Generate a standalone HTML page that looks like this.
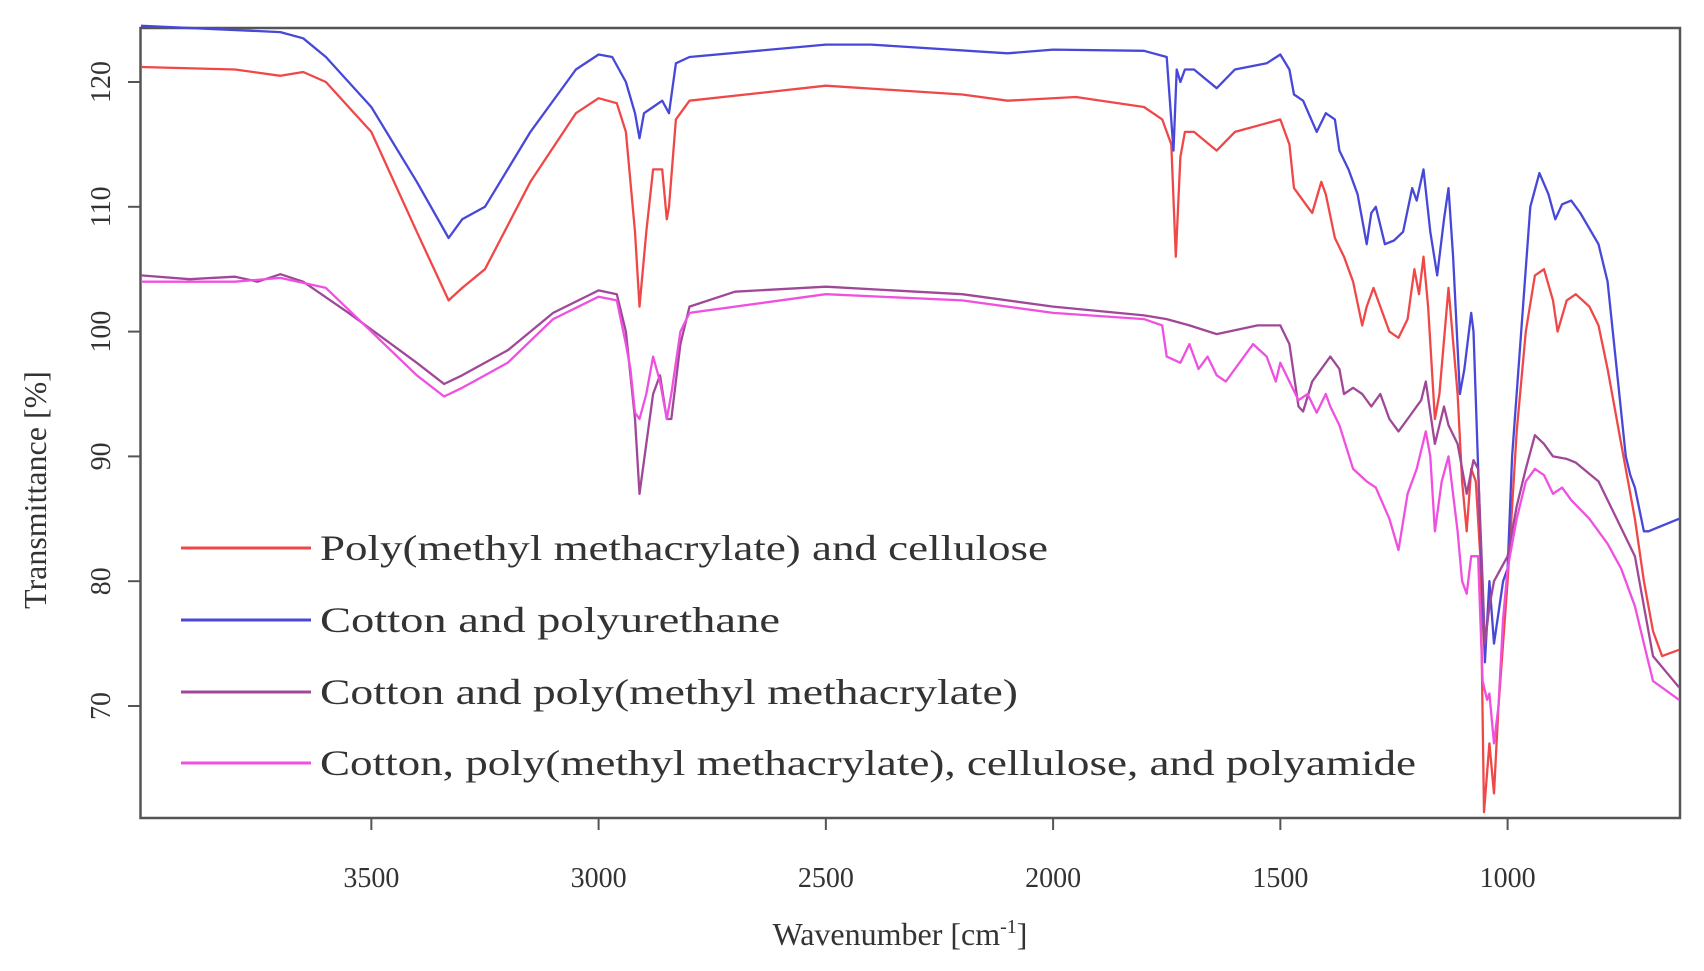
<!DOCTYPE html>
<html><head><meta charset="utf-8">
<style>
html,body{margin:0;padding:0;background:#fff;}
svg{display:block;}
text{font-family:"Liberation Serif",serif;fill:#333;}
</style></head>
<body>
<svg id="s" width="1704" height="971" viewBox="0 0 1704 971" xmlns="http://www.w3.org/2000/svg">
<rect x="0" y="0" width="1704" height="971" fill="#fff"/>
<rect x="140.5" y="28" width="1539.5" height="790" fill="none" stroke="#555" stroke-width="2.5"/>
<g id="ticks" stroke="#555" stroke-width="2"></g>
<g id="xlab" font-size="28" text-anchor="middle"></g>
<g id="ylab" font-size="28" text-anchor="middle"></g>
<text x="900" y="945" font-size="32" text-anchor="middle">Wavenumber [cm<tspan font-size="20" dy="-12">-1</tspan><tspan dy="12">]</tspan></text>
<text transform="translate(46,490) rotate(-90)" font-size="32" text-anchor="middle">Transmittance [%]</text>
<g id="curves" fill="none" stroke-width="2.3" stroke-linejoin="round"></g>
<g stroke-width="3">
<line x1="181" y1="548" x2="311" y2="548" stroke="#f04848"/>
<line x1="181" y1="620" x2="311" y2="620" stroke="#4848d8"/>
<line x1="181" y1="692" x2="311" y2="692" stroke="#a04898"/>
<line x1="181" y1="763" x2="311" y2="763" stroke="#f050e0"/>
</g>
<g font-size="36" fill="#222">
<text x="320" y="560" textLength="728" lengthAdjust="spacingAndGlyphs">Poly(methyl methacrylate) and cellulose</text>
<text x="320" y="632" textLength="460" lengthAdjust="spacingAndGlyphs">Cotton and polyurethane</text>
<text x="320" y="704" textLength="698" lengthAdjust="spacingAndGlyphs">Cotton and poly(methyl methacrylate)</text>
<text x="320" y="775" textLength="1096" lengthAdjust="spacingAndGlyphs">Cotton, poly(methyl methacrylate), cellulose, and polyamide</text>
</g>
</svg>
<script>
var X=function(v){return 1507.6+(1000-v)*0.4545;};
var Y=function(t){return 82+(120-t)*12.48;};
var NS="http://www.w3.org/2000/svg";
var tk=document.getElementById('ticks');
var xl=document.getElementById('xlab');
[3500,3000,2500,2000,1500,1000].forEach(function(v){var l=document.createElementNS(NS,'line');l.setAttribute('x1',X(v));l.setAttribute('x2',X(v));l.setAttribute('y1',818);l.setAttribute('y2',830);tk.appendChild(l);
var tx=document.createElementNS(NS,'text');tx.setAttribute('x',X(v));tx.setAttribute('y',887);tx.textContent=v;xl.appendChild(tx);});
var yl=document.getElementById('ylab');
[70,80,90,100,110,120].forEach(function(t){var l=document.createElementNS(NS,'line');l.setAttribute('x1',128);l.setAttribute('x2',140);l.setAttribute('y1',Y(t));l.setAttribute('y2',Y(t));tk.appendChild(l);
var tx=document.createElementNS(NS,'text');tx.setAttribute('transform','translate(110,'+Y(t)+') rotate(-90)');tx.textContent=t;yl.appendChild(tx);});
var data={
"#f04848":[4010,121.2,3800,121,3700,120.5,3650,120.8,3600,120,3500,116,3400,108,3330,102.5,3300,103.5,3250,105,3150,112,3050,117.5,3000,118.7,2960,118.3,2940,116,2920,108,2910,102,2895,108,2880,113,2860,113,2850,109,2845,110,2830,117,2800,118.5,2500,119.7,2200,119,2100,118.5,1950,118.8,1800,118,1760,117,1740,115,1730,106,1720,114,1710,116,1690,116,1640,114.5,1600,116,1530,116.7,1500,117,1480,115,1470,111.5,1440,110,1430,109.5,1410,112,1400,111,1380,107.5,1360,106,1340,104,1320,100.5,1310,102,1295,103.5,1280,102,1260,100,1240,99.5,1220,101,1205,105,1195,103,1185,106,1175,102,1160,93,1150,95,1130,103.5,1110,95,1100,88,1090,84,1080,89,1070,88,1060,82,1052,61.5,1040,67,1030,63,1020,70,1000,80,980,92,960,100,940,104.5,920,105,900,102.5,890,100,870,102.5,850,103,820,102,800,100.5,780,97,750,91,720,85,700,80,680,76,660,74,622,74.5],
"#4848d8":[4010,124.5,3700,124,3650,123.5,3600,122,3500,118,3400,112,3330,107.5,3300,109,3250,110,3150,116,3050,121,3000,122.2,2970,122,2940,120,2920,117.5,2910,115.5,2900,117.5,2880,118,2860,118.5,2845,117.5,2830,121.5,2800,122,2500,123,2400,123,2100,122.3,2000,122.6,1800,122.5,1750,122,1735,114.5,1728,121,1720,120,1710,121,1690,121,1640,119.5,1600,121,1530,121.5,1500,122.2,1480,121,1470,119,1450,118.5,1420,116,1400,117.5,1380,117,1370,114.5,1350,113,1330,111,1310,107,1300,109.5,1290,110,1270,107,1250,107.3,1230,108,1210,111.5,1200,110.5,1185,113,1170,108,1155,104.5,1140,109,1130,111.5,1120,106,1105,95,1095,97,1080,101.5,1075,100,1060,84,1050,73.5,1040,80,1030,75,1010,80,1000,81,990,90,970,100,950,110,930,112.7,910,111,895,109,880,110.2,860,110.5,840,109.5,800,107,780,104,760,97,740,90,730,88.5,720,87.5,700,84,690,84,622,85],
"#a04898":[4010,104.5,3900,104.2,3800,104.4,3750,104,3700,104.6,3650,104,3550,101.5,3400,97.5,3340,95.8,3300,96.5,3200,98.5,3100,101.5,3000,103.3,2960,103,2940,100,2920,93,2910,87,2895,91,2880,95,2865,96.5,2850,93,2840,93,2820,99,2800,102,2700,103.2,2500,103.6,2200,103,2000,102,1800,101.3,1750,101,1700,100.5,1640,99.8,1550,100.5,1500,100.5,1480,99,1460,94,1450,93.6,1430,96,1390,98,1370,97,1360,95,1340,95.5,1320,95,1300,94,1280,95,1260,93,1240,92,1220,93,1190,94.5,1180,96,1170,93.5,1160,91,1140,94,1130,92.5,1110,91,1090,87,1075,89.7,1065,89,1055,80,1050,75,1040,78,1030,80,1000,82,980,86,960,89,940,91.7,920,91,900,90,870,89.8,850,89.5,800,88,760,85,720,82,700,78,680,74,622,71.5],
"#f050e0":[4010,104,3800,104,3700,104.3,3600,103.5,3500,100,3400,96.5,3340,94.8,3300,95.5,3200,97.5,3100,101,3000,102.8,2960,102.5,2940,99,2930,97,2920,93.5,2910,93,2895,95,2880,98,2865,96,2850,93,2840,95,2820,100,2800,101.5,2500,103,2200,102.5,2000,101.5,1800,101,1760,100.5,1750,98,1720,97.5,1700,99,1680,97,1660,98,1640,96.5,1620,96,1600,97,1560,99,1530,98,1510,96,1500,97.5,1480,96,1460,94.5,1440,95,1420,93.5,1400,95,1390,94,1370,92.5,1340,89,1310,88,1290,87.5,1260,85,1240,82.5,1220,87,1200,89,1180,92,1170,90,1160,84,1145,88,1130,90,1110,84,1100,80,1090,79,1080,82,1065,82,1055,72,1045,70.5,1040,71,1030,67,1020,70,1010,77,1000,81,980,85,960,88,940,89,920,88.5,900,87,880,87.5,860,86.5,820,85,780,83,750,81,720,78,700,75,680,72,622,70.5]
};
var g=document.getElementById('curves');
Object.keys(data).forEach(function(c){var a=data[c],d='';for(var i=0;i<a.length;i+=2){d+=(i?'L':'M')+Math.max(141,Math.min(X(a[i]),1679)).toFixed(1)+' '+Y(a[i+1]).toFixed(1);}
var p=document.createElementNS(NS,'path');p.setAttribute('d',d);p.setAttribute('stroke',c);g.appendChild(p);});
</script>
</body></html>
